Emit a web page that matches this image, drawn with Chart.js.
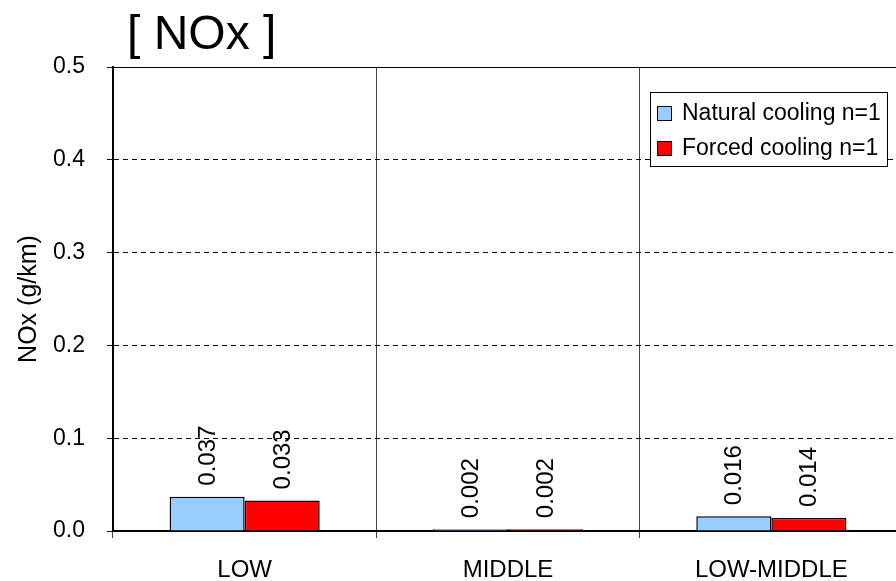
<!DOCTYPE html>
<html>
<head>
<meta charset="utf-8">
<script src="https://cdn.jsdelivr.net/npm/chart.js@4/dist/chart.umd.min.js"></script>
<style>
  html, body { margin: 0; padding: 0; background: #fff; overflow: hidden; }
  #wrap { position: relative; width: 910px; height: 581px; }
</style>
</head>
<body>
<div id="wrap"><canvas id="nox" width="910" height="581"></canvas></div>
<script>
// NOx emissions per driving mode
const categories  = ['LOW', 'MIDDLE', 'LOW-MIDDLE'];
const naturalVals = [0.037, 0.002, 0.016];
const forcedVals  = [0.033, 0.002, 0.014];
const seriesNames = ['Natural cooling n=1', 'Forced cooling n=1'];
const yTicks      = [0, 0.1, 0.2, 0.3, 0.4, 0.5];

const FONT = "'Liberation Sans', Arial, sans-serif";

// rotated value labels above each bar
const valueLabels = {
  id: 'valueLabels',
  afterDatasetsDraw(chart) {
    const ctx = chart.ctx;
    ctx.save();
    ctx.font = '24px ' + FONT;
    ctx.fillStyle = '#000';
    ctx.textAlign = 'left';
    ctx.textBaseline = 'middle';
    chart.data.datasets.forEach(function (ds, i) {
      chart.getDatasetMeta(i).data.forEach(function (bar, j) {
        ctx.save();
        ctx.translate(bar.x, bar.y - 11);
        ctx.rotate(-Math.PI / 2);
        ctx.fillText(ds.data[j].toFixed(3), 0, 1);
        ctx.restore();
      });
    });
    ctx.restore();
  }
};

// title, solid top frame line and boxed legend
const decorations = {
  id: 'decorations',
  afterDraw(chart) {
    const ctx = chart.ctx;
    const area = chart.chartArea;
    ctx.save();

    ctx.strokeStyle = '#000';
    ctx.lineWidth = 1;
    ctx.beginPath();
    ctx.moveTo(area.left, area.top + 0.5);
    ctx.lineTo(area.right, area.top + 0.5);
    ctx.stroke();

    ctx.font = '48px ' + FONT;
    ctx.fillStyle = '#000';
    ctx.textBaseline = 'alphabetic';
    ctx.fillText('[ NOx ]', area.left + 14, 49);

    // legend box
    const lx = 650, ly = 92, lw = 237, lh = 74;
    ctx.fillStyle = '#fff';
    ctx.fillRect(lx, ly, lw, lh);
    ctx.strokeStyle = '#000';
    ctx.strokeRect(lx + 0.5, ly + 0.5, lw, lh);
    ctx.font = '23px ' + FONT;
    ctx.textBaseline = 'middle';
    chart.data.datasets.forEach(function (ds, i) {
      const cy = ly + 21 + i * 35;
      ctx.fillStyle = ds.backgroundColor;
      ctx.fillRect(lx + 7, cy - 7, 14, 14);
      ctx.strokeRect(lx + 7.5, cy - 6.5, 14, 14);
      ctx.fillStyle = '#000';
      ctx.fillText(ds.label, lx + 32, cy + 1);
    });
    ctx.restore();
  }
};

new Chart(document.getElementById('nox'), {
  type: 'bar',
  data: {
    labels: categories,
    datasets: [
      { label: seriesNames[0], data: naturalVals, backgroundColor: '#99CCFF',
        borderColor: '#000', borderWidth: 1.5 },
      { label: seriesNames[1], data: forcedVals, backgroundColor: '#FF0000',
        borderColor: '#000', borderWidth: 1.5 }
    ]
  },
  options: {
    responsive: false,
    animation: false,
    layout: { padding: { top: 67, right: 7, left: 0, bottom: 0 } },
    datasets: { bar: { categoryPercentage: 0.57, barPercentage: 1 } },
    plugins: {
      legend: { display: false },
      tooltip: { enabled: false }
    },
    scales: {
      x: {
        afterFit(scale) { scale.height = 50; },
        grid: { color: '#444', lineWidth: 1, tickLength: 7, offset: true },
        border: { color: '#000', width: 2 },
        ticks: { color: '#000', font: { family: FONT, size: 24 }, padding: 18 }
      },
      y: {
        min: 0,
        max: 0.5,
        afterFit(scale) { scale.width = 113; },
        afterBuildTicks(scale) { scale.ticks = yTicks.map(v => ({ value: v })); },
        grid: { color: '#000', lineWidth: 1, tickLength: 6, tickColor: '#000' },
        border: { color: '#000', width: 2, dash: [5, 4] },
        ticks: {
          color: '#000',
          font: { family: FONT, size: 23 },
          padding: 22,
          callback: v => v.toFixed(1)
        },
        title: {
          display: true,
          text: 'NOx (g/km)',
          color: '#000',
          font: { family: FONT, size: 25 },
          padding: { top: 14, bottom: 0 }
        }
      }
    }
  },
  plugins: [valueLabels, decorations]
});
</script>
</body>
</html>
